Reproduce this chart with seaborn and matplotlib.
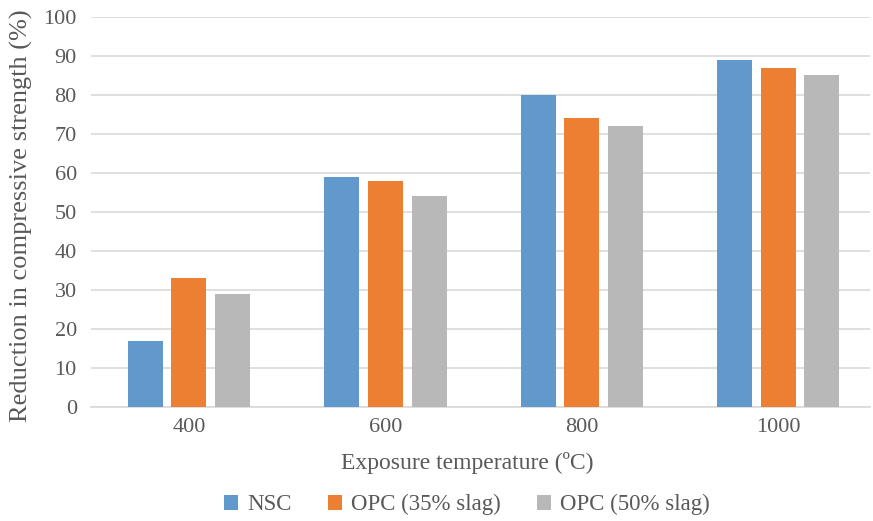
import matplotlib
matplotlib.use("Agg")
import matplotlib.pyplot as plt
import seaborn as sns
import pandas as pd

temperatures = ["400", "600", "800", "1000"]
series_names = ["NSC", "OPC (35% slag)", "OPC (50% slag)"]
nsc = [17, 59, 80, 89]
opc_35 = [33, 58, 74, 87]
opc_50 = [29, 54, 72, 85]
colors = ["#6299CC", "#ED7F32", "#B8B8B8"]

df = pd.DataFrame({
    "temperature": temperatures * 3,
    "series": [s for s in series_names for _ in temperatures],
    "value": nsc + opc_35 + opc_50,
})

sns.set_theme(style="white")
plt.rcParams["font.family"] = ["Liberation Serif", "DejaVu Serif"]
text_color = "#595959"

fig = plt.figure(figsize=(8.73, 5.21), dpi=100)
ax = fig.add_axes([0.1039, 0.2188, 0.8927, 0.7486])

sns.barplot(data=df, x="temperature", y="value", hue="series",
            order=temperatures, hue_order=series_names,
            palette=colors, width=0.667, gap=0.2, saturation=1,
            linewidth=0, errorbar=None, ax=ax, zorder=3)

ax.set_ylim(0, 100)
ax.set_xlim(-0.5, 3.467)
ax.set_yticks(range(0, 101, 10))
ax.yaxis.grid(True, color="#D9D9D9", linewidth=1.2, zorder=0)
ax.set_axisbelow(True)
for side in ["top", "right", "left"]:
    ax.spines[side].set_visible(False)
ax.spines["bottom"].set_color("#D9D9D9")
ax.spines["bottom"].set_linewidth(1.2)
ax.tick_params(axis="both", length=0, labelsize=16, colors=text_color)
ax.tick_params(axis="y", pad=10)
ax.tick_params(axis="x", pad=8)

ax.set_xlabel("Exposure temperature (ºC)", fontsize=17, color=text_color)
ax.xaxis.set_label_coords(0.4835, -0.115)
ax.set_ylabel("Reduction in compressive strength (%)", fontsize=19, color=text_color)
ax.yaxis.set_label_coords(-0.074, 0.49)

handles, labels = ax.get_legend_handles_labels()
ax.legend_.remove()
fig.legend(handles, labels, loc="center", bbox_to_anchor=(0.535, 0.031),
           ncol=3, frameon=False, fontsize=16.5, handlelength=0.6, handleheight=0.6,
           handletextpad=0.4, columnspacing=1.6, labelcolor=text_color)

fig.savefig("out.png", dpi=100)
